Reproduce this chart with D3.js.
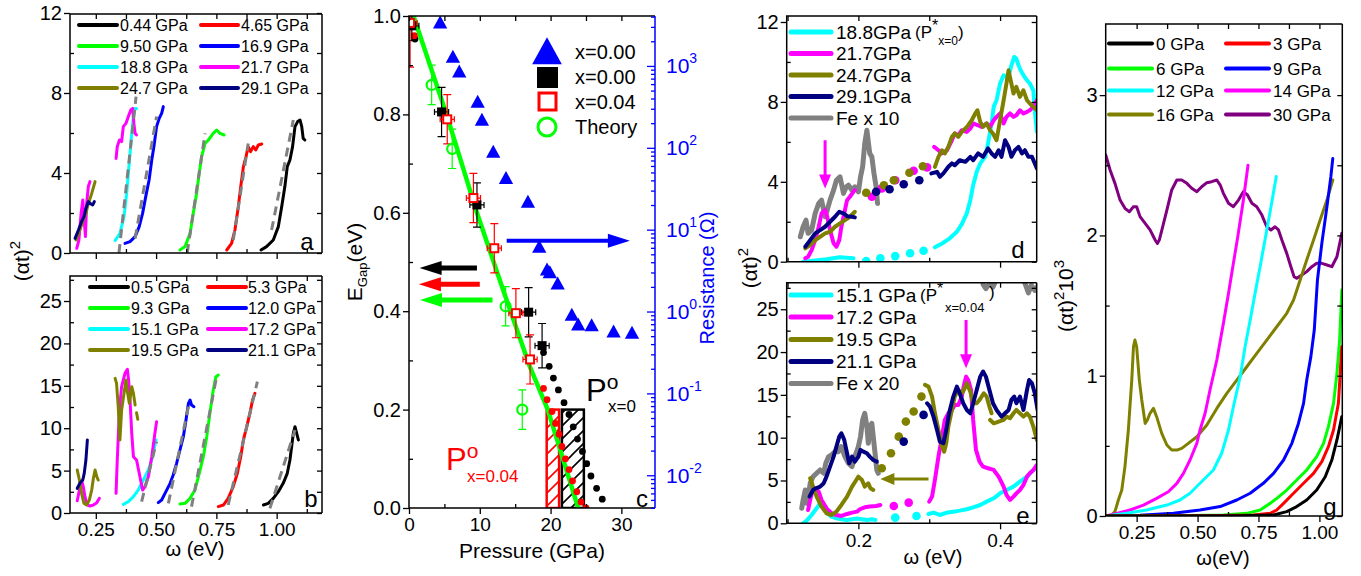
<!DOCTYPE html>
<html>
<head>
<meta charset="utf-8">
<script src="https://cdnjs.cloudflare.com/ajax/libs/d3/7.8.5/d3.min.js"></script>
<style>
body { margin: 0; background: #fff; }
svg { font-family: "Liberation Sans", Arial, sans-serif; }
</style>
</head>
<body>
<svg id="fig" width="1361" height="576"></svg>
<script>
// ---------- panel a : (alpha t)^2 vs omega, loading ----------
var a044 = [[0.935,0.15],[0.958,0.32],[0.986,0.65],[1.007,1.32],[1.021,2.32],[1.034,3.32],[1.044,4.32],[1.055,4.65],[1.066,5.32],[1.076,6.32],[1.087,6.57],[1.097,6.65],[1.104,6.32],[1.110,5.73],[1.117,5.65]];
var a465 = [[0.793,0.15],[0.813,0.48],[0.827,1.15],[0.841,2.32],[0.851,3.32],[0.862,4.32],[0.873,4.82],[0.882,5.32],[0.892,5.07],[0.903,5.32],[0.913,5.15],[0.924,5.4],[0.938,5.45]];
var a950 = [[0.599,0.15],[0.620,0.32],[0.641,0.98],[0.654,1.98],[0.668,2.98],[0.679,3.98],[0.689,4.82],[0.703,5.48],[0.717,5.65],[0.737,5.98],[0.751,6.15],[0.765,5.98],[0.782,5.9]];
var a169 = [[0.371,0.48],[0.392,0.57],[0.413,0.82],[0.430,1.32],[0.444,1.98],[0.457,2.82],[0.471,3.65],[0.482,4.65],[0.491,5.32],[0.502,6.32],[0.513,6.73],[0.523,6.98],[0.530,7.32]];
var a188 = [[0.330,0.62],[0.350,0.98],[0.367,1.82],[0.378,2.98],[0.385,3.98],[0.392,4.98],[0.399,5.98],[0.406,6.82],[0.413,7.23],[0.419,7.23]];
var a217lo = [[0.171,0.23],[0.180,0.65],[0.189,1.98],[0.196,2.65],[0.201,1.82],[0.207,0.82],[0.212,2.48],[0.219,3.32],[0.226,3.57]];
var a217hi = [[0.334,4.73],[0.339,5.32],[0.348,5.65],[0.357,5.57],[0.364,6.32],[0.375,6.48],[0.385,6.82],[0.395,7.15],[0.403,7.23],[0.408,6.48],[0.413,5.98],[0.419,5.9]];
var a247 = [[0.168,0.65],[0.184,1.15],[0.198,1.65],[0.209,1.98],[0.219,2.48],[0.233,2.98],[0.247,3.57]];
var a291 = [[0.164,0.73],[0.178,1.15],[0.191,1.57],[0.201,1.82],[0.209,2.23],[0.219,2.57],[0.226,2.48],[0.237,2.4],[0.244,2.57]];
var aFits = [[0.979,1.15,1.069,6.65],[0.820,0.65,0.882,5.48],[0.629,0,0.703,5.98],[0.413,0.73,0.502,6.82],[0.346,0,0.417,7.82]];
var aLabels = ['0.44 GPa','4.65 GPa','9.50 GPa','16.9 GPa','18.8 GPa','21.7 GPa','24.7 GPa','29.1 GPa'];

// ---------- panel b ----------
var b05 = [[0.945,0.94],[0.965,1.14],[0.986,1.73],[1.007,2.52],[1.027,3.50],[1.044,4.68],[1.055,6.25],[1.062,7.82],[1.069,9.39],[1.076,10.18],[1.083,9.39],[1.090,8.61]];
var b53 = [[0.758,0.75],[0.779,0.94],[0.799,1.73],[0.820,3.11],[0.837,4.68],[0.851,6.64],[0.862,8.61],[0.876,10.18],[0.889,11.75],[0.900,13.33],[0.910,14.11]];
var b93 = [[0.599,1.06],[0.620,1.14],[0.641,1.73],[0.661,2.71],[0.679,4.68],[0.696,6.64],[0.710,9.0],[0.723,11.75],[0.737,14.5],[0.748,16.08],[0.758,16.27]];
var b120 = [[0.509,1.22],[0.523,1.53],[0.537,2.32],[0.558,3.50],[0.571,4.48],[0.585,5.86],[0.599,7.43],[0.613,9.0],[0.624,10.97],[0.634,12.93],[0.641,13.33],[0.647,12.74],[0.657,12.54]];
var b151 = [[0.364,1.02],[0.385,1.34],[0.406,1.93],[0.426,2.71],[0.447,3.89],[0.468,5.07],[0.482,6.25],[0.491,7.43],[0.500,8.61]];
var b172lo = [[0.173,1.45],[0.182,2.71],[0.191,3.81],[0.198,3.11],[0.205,1.93],[0.215,0.94],[0.226,0.83],[0.240,0.94],[0.254,1.22],[0.265,1.73]];
var b172hi = [[0.334,2.32],[0.339,6.25],[0.348,12.15],[0.357,14.9],[0.371,16.47],[0.381,16.94],[0.386,15.68],[0.392,13.33],[0.399,9.39],[0.406,6.64],[0.419,6.25],[0.433,4.28],[0.444,2.71],[0.454,3.11],[0.468,4.28],[0.482,6.64],[0.495,9.39],[0.502,10.77]];
var b195lo = [[0.173,5.07],[0.182,3.89],[0.191,2.32],[0.201,1.14],[0.212,0.94],[0.223,1.53],[0.233,2.71],[0.240,4.09],[0.247,5.07],[0.254,4.28],[0.260,3.89]];
var b195hi = [[0.330,15.88],[0.336,15.29],[0.343,12.54],[0.350,8.61],[0.357,12.15],[0.367,14.11],[0.375,15.68],[0.382,14.11],[0.389,12.93],[0.399,14.9],[0.406,14.11],[0.413,12.74]];
var b195dash = [[0.419,11.83],[0.424,11.05]];
var b211 = [[0.173,2.91],[0.184,3.50],[0.196,3.89],[0.202,4.68],[0.209,6.25],[0.215,8.61]];
var bFits = [[0.972,0.55,1.076,9.79],[0.799,0.94,0.920,15.49],[0.647,0.75,0.751,16.08],[0.551,1.14,0.634,12.54],[0.440,1.34,0.502,8.41]];
var bLabels = ['0.5 GPa','5.3 GPa','9.3 GPa','12.0 GPa','15.1 GPa','17.2 GPa','19.5 GPa','21.1 GPa'];

// ---------- panel c : gap and resistance vs pressure ----------
var resist = [[4.4,3388],[6.2,1288],[7.1,851],[9.7,363],[10.3,219],[11.9,89],[13.7,42.7],[16.8,21.9],[18.4,6.17],[19.5,3.24],[19.9,3.0],[21.0,2.19],[23.0,0.91],[23.9,0.69],[25.8,0.676],[28.9,0.569],[31.5,0.55]];
var gapX0 = [[0.4,0.98,0.03],[4.6,0.805,0.05],[9.6,0.616,0.045],[16.9,0.398,0.05],[18.8,0.33,0.045]];
var gapX04 = [[0.15,0.986,0.09],[5.4,0.79,0.05],[9.1,0.63,0.05],[12.05,0.528,0.05],[15.1,0.396,0.05],[17.1,0.302,0.05]];
var theory = [[3.2,0.86,0.04],[6.1,0.73,0.04],[13.65,0.41,0.04],[16.0,0.20,0.04]];
var theoryLine = [[0.4,1.01],[5.3,0.8],[9.6,0.6],[13.3,0.443],[17,0.29],[19.6,0.2],[23.9,0]];
var dotsX0 = [[0.85,0.953],[19.0,0.316],[19.8,0.288],[20.4,0.264],[21.1,0.240],[21.9,0.214],[22.6,0.19],[23.2,0.165],[23.8,0.14],[24.5,0.115],[25.1,0.09],[25.7,0.065],[26.5,0.04],[27.3,0.018]];
var dotsX04 = [[0.75,0.96],[19.0,0.243],[19.5,0.22],[20.2,0.196],[20.7,0.172],[21.2,0.15],[21.6,0.125],[22.1,0.10],[22.6,0.078],[23.1,0.055],[23.7,0.033],[24.3,0.012],[25.0,0.0]];
var boxX04 = [19.45, 21.2, 0.2];
var boxX0 = [21.6, 24.7, 0.2];
var cArrows = [[9.6,0.488,1.5,0.488],[10.0,0.455,1.4,0.455],[11.8,0.423,1.55,0.423],[13.8,0.543,31.2,0.543]];
var cLabels = ['x=0.00','x=0.00','x=0.04','Theory'];

// ---------- panel d ----------
var d188lo = [[0.122,0],[0.136,0.05],[0.155,0.12],[0.174,0.22],[0.193,0.17]];
var d188dots = [[0.211,0.03],[0.231,0.17],[0.252,0.28],[0.273,0.42],[0.292,0.55]];
var d188hi = [[0.308,0.72],[0.320,0.95],[0.329,1.17],[0.339,1.5],[0.346,1.88],[0.353,2.42],[0.358,3.08],[0.362,3.83],[0.367,4.5],[0.372,4.92],[0.379,5.25],[0.383,5.92],[0.388,6.92],[0.391,7.75],[0.395,8.08],[0.400,8.92],[0.405,9.33],[0.409,9.25],[0.413,9.42],[0.416,9.83],[0.420,10.25],[0.423,10.17],[0.426,9.83],[0.429,9.58],[0.433,9.33],[0.438,9.08],[0.442,8.92],[0.447,8.58],[0.449,7.58],[0.452,6.5]];
var d217lo = [[0.125,0.17],[0.129,0.25],[0.134,0.58],[0.139,1.08],[0.144,1.75],[0.148,2.42],[0.153,2.58],[0.156,2.25],[0.160,1.58],[0.165,0.92],[0.169,0.75],[0.173,1.08],[0.176,1.75],[0.180,2.42],[0.184,3.08],[0.188,3.25],[0.193,3.5],[0.195,3.58]];
var d217dots = [[0.219,3.25],[0.233,3.67],[0.252,4.08],[0.278,4.55],[0.297,4.72]];
var d217hi = [[0.307,5.75],[0.313,5.58],[0.318,5.42],[0.325,5.58],[0.332,6.08],[0.336,6.42],[0.341,6.33],[0.346,6.58],[0.353,6.5],[0.358,6.67],[0.362,6.92],[0.369,6.83],[0.374,6.75],[0.381,6.92],[0.386,6.75],[0.391,7.08],[0.395,7.25],[0.400,7.42],[0.405,6.92],[0.409,7.25],[0.414,7.42],[0.419,7.25],[0.423,7.33],[0.428,7.58],[0.433,7.42],[0.438,7.5],[0.442,7.58],[0.447,7.75],[0.452,8.08]];
var d247lo = [[0.125,0.67],[0.132,0.83],[0.139,1.08],[0.146,1.25],[0.153,1.42],[0.160,1.5],[0.167,1.75],[0.174,1.92],[0.181,2.08],[0.188,2.25],[0.195,2.5]];
var d247dots = [[0.211,3.45],[0.236,3.83],[0.250,4.08],[0.272,4.45],[0.291,4.78]];
var d247hi = [[0.308,4.75],[0.313,5.25],[0.318,5.58],[0.322,5.42],[0.327,5.75],[0.332,6.25],[0.336,6.42],[0.341,6.25],[0.346,6.5],[0.351,6.67],[0.355,6.83],[0.360,7.08],[0.365,7.42],[0.368,7.58],[0.372,7.0],[0.376,6.75],[0.381,6.92],[0.386,6.58],[0.390,6.42],[0.395,6.08],[0.400,7.08],[0.405,8.08],[0.409,8.92],[0.412,9.58],[0.415,9.08],[0.419,8.42],[0.423,8.75],[0.428,8.25],[0.433,8.58],[0.438,8.08],[0.442,7.92],[0.447,7.75],[0.452,7.58]];
var d291lo = [[0.125,0.75],[0.132,1.08],[0.139,1.42],[0.146,1.58],[0.153,1.75],[0.160,2.0],[0.167,2.25],[0.173,2.5],[0.179,2.42],[0.184,2.28],[0.191,2.25],[0.195,2.22]];
var d291dots = [[0.225,3.5],[0.244,3.63],[0.264,3.88],[0.286,4.08]];
var d291hi = [[0.303,4.42],[0.311,4.5],[0.315,4.25],[0.320,4.42],[0.327,4.75],[0.332,4.92],[0.336,4.83],[0.343,5.08],[0.351,5.0],[0.358,5.25],[0.362,5.08],[0.369,5.42],[0.376,5.25],[0.383,5.67],[0.388,5.42],[0.393,5.25],[0.398,5.58],[0.402,5.25],[0.407,6.08],[0.412,5.75],[0.416,5.25],[0.421,5.58],[0.426,5.75],[0.431,5.42],[0.435,5.58],[0.440,5.25],[0.445,5.25],[0.449,4.92],[0.452,4.67]];
var dFe = [[0.118,1.25],[0.122,1.75],[0.126,2.08],[0.129,1.42],[0.134,1.58],[0.139,2.42],[0.144,2.92],[0.148,3.08],[0.153,2.25],[0.156,2.58],[0.160,3.08],[0.165,3.58],[0.169,4.08],[0.174,4.25],[0.179,3.42],[0.183,3.75],[0.186,3.83],[0.191,3.58],[0.195,3.75],[0.200,3.5],[0.203,4.25],[0.206,4.75],[0.209,5.92],[0.212,6.58],[0.216,5.42],[0.219,5.25],[0.222,4.42],[0.225,3.75],[0.227,2.92]];
var dArrow = [0.153,6.08,0.153,3.67];

// ---------- panel e ----------
var e151lo = [[0.122,0],[0.127,0.31],[0.134,0.97],[0.141,1.75],[0.146,2.34],[0.151,1.95],[0.156,1.17],[0.162,0.78],[0.169,0.58],[0.176,0.47],[0.184,0.39],[0.191,0.47],[0.198,0.55],[0.205,0.47],[0.212,0.39],[0.219,0.47],[0.224,0.39]];
var e151dots = [[0.252,0.66],[0.282,0.86]];
var e151hi = [[0.299,1.09],[0.306,1.25],[0.315,0.97],[0.325,1.25],[0.334,1.36],[0.343,1.48],[0.353,1.64],[0.362,1.87],[0.372,2.14],[0.381,2.53],[0.391,2.92],[0.400,3.5],[0.409,3.89],[0.419,4.28],[0.428,4.87],[0.438,5.45],[0.447,6.23],[0.453,6.62]];
var e172lo = [[0.129,1.56],[0.133,3.12],[0.136,3.89],[0.139,4.09],[0.144,3.7],[0.148,2.73],[0.155,1.75],[0.162,1.17],[0.169,0.97],[0.176,0.86],[0.184,1.09],[0.191,1.25],[0.198,1.36],[0.202,1.64],[0.209,1.87],[0.216,1.95],[0.225,2.02],[0.231,2.14]];
var e172dots = [[0.250,2.02],[0.271,2.41]];
var e172hi = [[0.300,2.53],[0.304,3.12],[0.308,5.06],[0.313,7.79],[0.318,10.12],[0.322,12.07],[0.327,12.85],[0.332,13.24],[0.336,13.82],[0.341,13.82],[0.346,14.8],[0.349,16.16],[0.352,17.13],[0.355,16.74],[0.359,15.58],[0.362,12.07],[0.366,8.57],[0.371,7.2],[0.376,6.62],[0.383,6.43],[0.391,6.23],[0.398,5.45],[0.405,4.28],[0.409,3.31],[0.414,2.73],[0.419,3.12],[0.423,3.5],[0.428,3.89],[0.433,4.48],[0.438,5.45],[0.442,5.84],[0.447,6.23],[0.452,6.81]];
var e195lo = [[0.132,5.26],[0.136,4.28],[0.141,3.12],[0.148,1.95],[0.155,1.17],[0.162,0.97],[0.169,1.36],[0.176,2.14],[0.184,3.12],[0.191,4.28],[0.197,5.06],[0.200,5.45],[0.205,5.06],[0.209,4.28],[0.214,4.67],[0.217,4.09],[0.221,3.89]];
var e195dots = [[0.233,6.43],[0.246,8.18],[0.257,10.12],[0.267,11.88],[0.278,13.05],[0.289,14.8]];
var e195hi = [[0.294,16.16],[0.299,15.97],[0.304,14.8],[0.308,12.85],[0.313,10.9],[0.318,8.96],[0.321,8.37],[0.324,9.35],[0.327,11.29],[0.332,13.24],[0.336,14.8],[0.341,15.58],[0.346,15.19],[0.349,15.58],[0.353,16.36],[0.358,15.38],[0.362,14.02],[0.367,14.02],[0.371,14.41],[0.374,14.8],[0.377,15.19],[0.381,14.8],[0.385,13.63],[0.388,12.85]];
var e195hi2 = [[0.386,12.07],[0.391,11.68],[0.398,11.88],[0.405,12.07],[0.409,12.46],[0.414,12.27],[0.419,12.85],[0.423,13.24],[0.428,12.85],[0.433,12.46],[0.438,12.85],[0.442,12.46],[0.447,11.29],[0.452,9.74]];
var e211lo = [[0.131,3.12],[0.136,3.89],[0.140,4.09],[0.146,4.28],[0.151,4.67],[0.155,5.45],[0.160,6.62],[0.165,7.79],[0.169,8.96],[0.173,10.12],[0.176,10.51],[0.180,9.74],[0.184,8.18],[0.187,7.01],[0.191,7.79],[0.195,7.2],[0.200,7.79],[0.203,8.57],[0.207,8.37],[0.212,8.18],[0.216,7.79],[0.221,7.4],[0.226,7.2]];
var e211dots = [[0.264,9.54],[0.292,12.66]];
var e211hi = [[0.297,14.02],[0.301,13.63],[0.306,12.46],[0.311,10.9],[0.315,9.54],[0.320,9.35],[0.324,10.9],[0.328,12.85],[0.334,14.8],[0.339,15.97],[0.343,15.19],[0.348,14.02],[0.353,13.24],[0.358,12.85],[0.362,14.02],[0.367,15.58],[0.372,17.13],[0.376,17.72],[0.380,17.13],[0.385,15.58],[0.390,14.02],[0.395,13.24],[0.402,12.46],[0.407,12.85],[0.412,13.24],[0.416,14.41],[0.420,14.8],[0.423,14.02],[0.428,14.8],[0.433,13.24],[0.438,15.58],[0.441,16.74],[0.445,16.36],[0.449,15.19],[0.453,13.24]];
var eFe = [[0.120,1.75],[0.122,2.73],[0.125,3.89],[0.127,2.34],[0.129,3.12],[0.132,4.67],[0.136,5.45],[0.141,5.84],[0.146,6.23],[0.151,5.84],[0.154,7.01],[0.158,7.79],[0.162,7.98],[0.167,8.37],[0.172,8.37],[0.176,8.96],[0.181,7.79],[0.186,7.01],[0.191,6.62],[0.195,7.79],[0.200,8.96],[0.203,10.12],[0.206,12.07],[0.209,12.85],[0.212,11.29],[0.214,9.35],[0.216,11.29],[0.219,11.68],[0.221,10.12],[0.224,7.79],[0.226,6.23],[0.228,5.84]];
var eFeHi = [[0.376,27.9],[0.380,27.4],[0.385,28.0],[0.390,27.6],[0.395,28.5],[0.405,28.8],[0.415,28.9],[0.425,28.8],[0.433,28.5],[0.437,27.6],[0.440,26.9],[0.444,27.8],[0.449,27.2],[0.453,27.7]];
var eArrows = [[0.352,23.75,0.352,18.1],[0.299,5.18,0.231,5.18]];

// ---------- panel g ----------
var g0 = [[0.123,0],[0.675,0.002],[0.812,0.007],[0.866,0.031],[0.907,0.067],[0.948,0.114],[0.989,0.185],[1.024,0.280],[1.051,0.399],[1.072,0.542],[1.092,0.708]];
var g3 = [[0.123,0],[0.538,0.002],[0.729,0.007],[0.798,0.019],[0.825,0.043],[0.853,0.090],[0.894,0.162],[0.935,0.233],[0.976,0.304],[1.010,0.387],[1.037,0.494],[1.058,0.613],[1.078,0.803],[1.092,1.207]];
var g6 = [[0.123,0],[0.401,0.002],[0.606,0.007],[0.702,0.019],[0.757,0.043],[0.798,0.090],[0.825,0.126],[0.866,0.185],[0.907,0.257],[0.948,0.328],[0.989,0.423],[1.017,0.518],[1.037,0.637],[1.058,0.803],[1.072,1.017],[1.083,1.254],[1.092,1.611]];
var g9 = [[0.123,0],[0.264,0.005],[0.401,0.019],[0.510,0.043],[0.593,0.067],[0.661,0.114],[0.716,0.162],[0.770,0.233],[0.812,0.304],[0.853,0.399],[0.887,0.518],[0.914,0.660],[0.935,0.803],[0.948,0.969],[0.965,1.136],[0.979,1.326],[0.992,1.682],[1.010,1.943],[1.031,2.205],[1.047,2.419],[1.055,2.549]];
var g12 = [[0.123,0],[0.209,0.019],[0.291,0.043],[0.374,0.078],[0.428,0.114],[0.469,0.162],[0.510,0.233],[0.565,0.328],[0.599,0.447],[0.627,0.613],[0.647,0.779],[0.675,0.993],[0.695,1.207],[0.716,1.397],[0.736,1.587],[0.757,1.78],[0.780,2.0],[0.802,2.21],[0.823,2.42]];
var g14 = [[0.123,0],[0.168,0.019],[0.223,0.043],[0.278,0.078],[0.332,0.126],[0.380,0.173],[0.415,0.233],[0.442,0.304],[0.469,0.399],[0.497,0.518],[0.510,0.613],[0.531,0.732],[0.551,0.898],[0.579,1.112],[0.606,1.373],[0.627,1.587],[0.645,1.78],[0.665,1.99],[0.687,2.24],[0.707,2.50]];
var g16 = [[0.123,0],[0.148,0.007],[0.161,0.031],[0.175,0.114],[0.189,0.185],[0.202,0.352],[0.216,0.613],[0.230,0.969],[0.237,1.207],[0.243,1.254],[0.250,1.207],[0.261,0.969],[0.271,0.827],[0.285,0.660],[0.294,0.684],[0.305,0.732],[0.319,0.767],[0.332,0.708],[0.353,0.589],[0.374,0.506],[0.394,0.470],[0.415,0.470],[0.435,0.482],[0.462,0.518],[0.497,0.565],[0.538,0.648],[0.579,0.767],[0.620,0.874],[0.661,0.969],[0.702,1.064],[0.743,1.159],[0.784,1.254],[0.825,1.349],[0.866,1.445],[0.894,1.540],[0.921,1.682],[0.948,1.825],[0.976,1.967],[1.003,2.110],[1.031,2.252],[1.055,2.395]];
var g30 = [[0.123,2.573],[0.141,2.466],[0.161,2.371],[0.182,2.252],[0.202,2.193],[0.220,2.169],[0.237,2.205],[0.250,2.205],[0.264,2.134],[0.285,2.086],[0.305,2.039],[0.326,1.967],[0.335,1.943],[0.343,1.967],[0.357,2.062],[0.374,2.181],[0.394,2.324],[0.415,2.395],[0.435,2.395],[0.456,2.371],[0.476,2.336],[0.497,2.312],[0.517,2.347],[0.538,2.376],[0.558,2.383],[0.579,2.395],[0.593,2.359],[0.606,2.300],[0.627,2.229],[0.647,2.205],[0.668,2.252],[0.688,2.312],[0.705,2.288],[0.723,2.229],[0.743,2.205],[0.764,2.145],[0.784,2.062],[0.801,2.039],[0.818,2.062],[0.832,2.039],[0.846,1.967],[0.866,1.872],[0.883,1.777],[0.896,1.706],[0.907,1.694],[0.928,1.718],[0.948,1.742],[0.969,1.777],[0.989,1.801],[1.010,1.801],[1.031,1.789],[1.051,1.777],[1.072,1.848],[1.092,2.015]];
var gLabels = ['0 GPa','3 GPa','6 GPa','9 GPa','12 GPa','14 GPa','16 GPa','30 GPa'];

// ticks
var abXMaj = [0.25,0.5,0.75,1.0], abXMin = [0.375,0.625,0.875,1.125];
var aYMaj = [0,4,8,12], aYMin = [2,6,10];
var bYMaj = [0,5,10,15,20,25], bYMin = [2.5,7.5,12.5,17.5,22.5,27.5];
var cXMaj = [0,10,20,30], cXMin = [5,15,25];
var cYMaj = [0,0.2,0.4,0.6,0.8,1.0], cYMin = [0.1,0.3,0.5,0.7,0.9];
var cRMaj = [0.01,0.1,1,10,100,1000];
var deXMaj = [0.2,0.4], deXMin = [0.1,0.3];
var dYMaj = [0,4,8,12], dYMin = [2,6,10];
var eYMaj = [0,5,10,15,20,25], eYMin = [2.5,7.5,12.5,17.5,22.5,27.5];
var gXMaj = [0.25,0.5,0.75,1.0], gXMin = [0.375,0.625,0.875];
var gYMaj = [0,1,2,3], gYMin = [0.5,1.5,2.5];

var C = {black:'#000000', red:'#ff0000', green:'#00ff00', blue:'#0000ff', cyan:'#00ffff', magenta:'#ff00ff', olive:'#808000', navy:'#000080', gray:'#808080', purple:'#800080'};
var svg = d3.select('#fig');
var clipN = 0;

function panel(box, xd, yd) {
  var p = {box: box};
  p.x = d3.scaleLinear().domain(xd).range([box[0], box[2]]);
  p.y = d3.scaleLinear().domain(yd).range([box[3], box[1]]);
  var id = 'clip' + (clipN++);
  svg.append('clipPath').attr('id', id).append('rect')
    .attr('x', box[0]).attr('y', box[1]).attr('width', box[2] - box[0]).attr('height', box[3] - box[1]);
  p.g = svg.append('g').attr('clip-path', 'url(#' + id + ')');
  return p;
}

function put(axis, tx, ty, fs, color) {
  var g = svg.append('g').attr('transform', 'translate(' + tx + ',' + ty + ')').call(axis);
  g.select('.domain').remove();
  g.selectAll('line').attr('stroke', color || '#000').attr('stroke-width', 1.3);
  g.selectAll('text').attr('fill', color || '#000').style('font-size', (fs || 20) + 'px').style('font-family', 'Liberation Sans, Arial, sans-serif');
  return g;
}
var none = function() { return ''; };

function axes(p, o) {
  var b = p.box;
  put(d3.axisBottom(p.x).tickValues(o.xMaj).tickSize(6).tickPadding(4).tickFormat(o.xFmt || none), 0, b[3], 19);
  put(d3.axisBottom(p.x).tickValues(o.xMin).tickSize(-4).tickFormat(none), 0, b[3]);
  put(d3.axisTop(p.x).tickValues(o.xMaj.concat(o.xMin)).tickSize(-5).tickFormat(none), 0, b[1]);
  put(d3.axisLeft(p.y).tickValues(o.yMaj).tickSize(6).tickPadding(2).tickFormat(o.yFmt || none), b[0], 0, 20);
  put(d3.axisLeft(p.y).tickValues(o.yMin).tickSize(-4).tickFormat(none), b[0], 0);
  if (!o.noRight) put(d3.axisRight(p.y).tickValues(o.yMaj.concat(o.yMin)).tickSize(-5).tickFormat(none), b[2], 0);
  var fr = svg.append('g').attr('fill', 'none').attr('stroke-width', 1.5);
  fr.append('path').attr('d', 'M' + b[2] + ',' + b[1] + 'H' + b[0] + 'V' + b[3] + 'H' + b[2]).attr('stroke', '#000');
  fr.append('path').attr('d', 'M' + b[2] + ',' + b[1] + 'V' + b[3]).attr('stroke', o.rightColor || '#000');
}

function curve(p, data, color, w, dash) {
  p.g.append('path').datum(data)
    .attr('d', d3.line().x(function(d) { return p.x(d[0]); }).y(function(d) { return p.y(d[1]); }))
    .attr('fill', 'none').attr('stroke', color).attr('stroke-width', w || 3)
    .attr('stroke-linejoin', 'round').attr('stroke-linecap', 'round')
    .attr('stroke-dasharray', dash || null);
}
function dots(p, data, color, r) {
  p.g.selectAll(null).data(data).enter().append('circle')
    .attr('cx', function(d) { return p.x(d[0]); }).attr('cy', function(d) { return p.y(d[1]); })
    .attr('r', r).attr('fill', color);
}
function fits(p, data) {
  p.g.selectAll(null).data(data).enter().append('line')
    .attr('x1', function(d) { return p.x(d[0]); }).attr('y1', function(d) { return p.y(d[1]); })
    .attr('x2', function(d) { return p.x(d[2]); }).attr('y2', function(d) { return p.y(d[3]); })
    .attr('stroke', C.gray).attr('stroke-width', 3).attr('stroke-dasharray', '9,6');
}
function arrow(p, a, color, w, hl, hw) {
  var x1 = p.x(a[0]), y1 = p.y(a[1]), x2 = p.x(a[2]), y2 = p.y(a[3]);
  var dx = x2 - x1, dy = y2 - y1, L = Math.sqrt(dx * dx + dy * dy), ux = dx / L, uy = dy / L;
  var bx = x2 - ux * hl, by = y2 - uy * hl;
  svg.append('line').attr('x1', x1).attr('y1', y1).attr('x2', bx + ux * 2).attr('y2', by + uy * 2)
    .attr('stroke', color).attr('stroke-width', w);
  svg.append('path').attr('fill', color)
    .attr('d', 'M' + x2 + ',' + y2 + 'L' + (bx - uy * hw) + ',' + (by + ux * hw) + 'L' + (bx + uy * hw) + ',' + (by - ux * hw) + 'Z');
}
function legendLines(entries, colors, x0, x1, tx, ys, fs, w) {
  entries.forEach(function(t, i) {
    svg.append('line').attr('x1', x0).attr('x2', x1).attr('y1', ys[i]).attr('y2', ys[i])
      .attr('stroke', colors[i]).attr('stroke-width', w || 4).attr('stroke-linecap', 'round');
    svg.append('text').attr('x', tx).attr('y', ys[i]).attr('dy', '0.36em').style('font-size', fs + 'px').text(t);
  });
}
function letter(x, y, t) {
  svg.append('text').attr('x', x).attr('y', y).attr('text-anchor', 'middle').attr('dy', '0.36em').style('font-size', '24px').text(t);
}
function vtitle(x, y, size) {
  return svg.append('text').attr('transform', 'translate(' + x + ',' + y + ') rotate(-90)')
    .attr('text-anchor', 'middle').style('font-size', size + 'px');
}

// ================= panel a =================
var pa = panel([70, 14, 322, 253], [0.143, 1.188], [0, 11.95]);
axes(pa, {xMaj: abXMaj, xMin: abXMin, yMaj: aYMaj, yMin: aYMin, yFmt: d3.format('d')});
curve(pa, a044, C.black); curve(pa, a465, C.red); curve(pa, a950, C.green); curve(pa, a169, C.blue);
curve(pa, a188, C.cyan); curve(pa, a217hi, C.magenta); curve(pa, a217lo, C.magenta);
curve(pa, a247, C.olive); curve(pa, a291, C.navy);
fits(pa, aFits);
var colCols = [C.black, C.red, C.green, C.blue, C.cyan, C.magenta, C.olive, C.navy];
legendLines([aLabels[0], aLabels[2], aLabels[4], aLabels[6]], [colCols[0], colCols[2], colCols[4], colCols[6]], 79, 117, 120, [25, 46, 67, 88], 16);
legendLines([aLabels[1], aLabels[3], aLabels[5], aLabels[7]], [colCols[1], colCols[3], colCols[5], colCols[7]], 201, 238, 241, [25, 46, 67, 88], 16);
letter(307, 241, 'a');

// ================= panel b =================
var pb = panel([70, 276, 322, 513], [0.143, 1.188], [0, 27.95]);
axes(pb, {xMaj: abXMaj, xMin: abXMin, yMaj: bYMaj, yMin: bYMin, yFmt: d3.format('d'), xFmt: d3.format('.2f')});
curve(pb, b05, C.black); curve(pb, b53, C.red); curve(pb, b93, C.green); curve(pb, b120, C.blue);
curve(pb, b151, C.cyan); curve(pb, b172lo, C.magenta); curve(pb, b172hi, C.magenta);
curve(pb, b195lo, C.olive); curve(pb, b195hi, C.olive); curve(pb, b195dash, C.olive); curve(pb, b211, C.navy);
fits(pb, bFits);
legendLines([bLabels[0], bLabels[2], bLabels[4], bLabels[6]], [colCols[0], colCols[2], colCols[4], colCols[6]], 90, 128, 131, [287, 308, 329, 350], 16);
legendLines([bLabels[1], bLabels[3], bLabels[5], bLabels[7]], [colCols[1], colCols[3], colCols[5], colCols[7]], 208, 246, 248, [287, 308, 329, 350], 16);
letter(311, 498, 'b');
svg.append('text').attr('x', 195).attr('y', 556).attr('text-anchor', 'middle').style('font-size', '20px').text('\u03c9 (eV)');
var t1 = vtitle(29, 261, 21); t1.append('tspan').text('(\u03b1t)'); t1.append('tspan').attr('dy', -9).style('font-size', '15px').text('2');

// ================= panel c =================
var pc = panel([409, 16, 655, 508], [0, 34.75], [0, 1]);
var yR = d3.scaleLog().domain([Math.pow(10, -2.4), Math.pow(10, 3.61)]).range([508, 16]);
var defs = svg.append('defs');
[['hatchR', C.red], ['hatchK', C.black]].forEach(function(h) {
  defs.append('pattern').attr('id', h[0]).attr('patternUnits', 'userSpaceOnUse').attr('width', 13).attr('height', 13)
    .append('path').attr('d', 'M-2,15L15,-2M-2,2L2,-2M11,15L15,11').attr('stroke', h[1]).attr('stroke-width', 1.6);
});
[[boxX04, 'hatchR', C.red], [boxX0, 'hatchK', C.black]].forEach(function(b) {
  pc.g.append('rect').attr('x', pc.x(b[0][0])).attr('width', pc.x(b[0][1]) - pc.x(b[0][0]))
    .attr('y', pc.y(b[0][2])).attr('height', pc.y(0) - pc.y(b[0][2]))
    .attr('fill', 'url(#' + b[1] + ')').attr('stroke', b[2]).attr('stroke-width', 2.5);
});
curve(pc, theoryLine, C.green, 4.5);
dots(pc, dotsX0, C.black, 3.4);
dots(pc, dotsX04, C.red, 3.4);
function errbars(p, data, color, hw) {
  var g = p.g.append('g').attr('stroke', color).attr('stroke-width', 1.2).attr('fill', 'none');
  data.forEach(function(d) {
    var cx = p.x(d[0]), y1 = p.y(d[1] - d[2]), y2 = p.y(d[1] + d[2]), cy = p.y(d[1]);
    g.append('path').attr('d', 'M' + cx + ',' + y1 + 'V' + y2 + 'M' + (cx - 4) + ',' + y1 + 'h8M' + (cx - 4) + ',' + y2 + 'h8');
    if (hw) {
      var x1 = p.x(d[0] - hw), x2 = p.x(d[0] + hw);
      g.append('path').attr('d', 'M' + x1 + ',' + cy + 'H' + x2 + 'M' + x1 + ',' + (cy - 3) + 'v6M' + x2 + ',' + (cy - 3) + 'v6');
    }
  });
}
errbars(pc, gapX0, C.black, 1);
errbars(pc, gapX04, C.red, 1);
errbars(pc, theory, C.green, 0);
pc.g.selectAll(null).data(gapX0).enter().append('rect')
  .attr('x', function(d) { return pc.x(d[0]) - 4.5; }).attr('y', function(d) { return pc.y(d[1]) - 4.5; })
  .attr('width', 9).attr('height', 9).attr('fill', C.black);
pc.g.selectAll(null).data(gapX04).enter().append('rect')
  .attr('x', function(d) { return pc.x(d[0]) - 4; }).attr('y', function(d) { return pc.y(d[1]) - 4; })
  .attr('width', 8).attr('height', 8).attr('fill', '#fff').attr('stroke', C.red).attr('stroke-width', 2);
pc.g.selectAll(null).data(theory).enter().append('circle')
  .attr('cx', function(d) { return pc.x(d[0]); }).attr('cy', function(d) { return pc.y(d[1]); })
  .attr('r', 5).attr('fill', 'none').attr('stroke', C.green).attr('stroke-width', 2.2);
function tri(cx, cy, s) { return 'M' + cx + ',' + (cy - s * 0.55) + 'L' + (cx + s * 0.55) + ',' + (cy + s * 0.45) + 'L' + (cx - s * 0.55) + ',' + (cy + s * 0.45) + 'Z'; }
pc.g.selectAll(null).data(resist).enter().append('path')
  .attr('d', function(d) { return tri(pc.x(d[0]), yR(d[1]), 13); }).attr('fill', C.blue);
// axes of panel c
axes(pc, {xMaj: cXMaj, xMin: cXMin, yMaj: cYMaj, yMin: cYMin, yFmt: d3.format('.1f'), xFmt: d3.format('d'), noRight: true, rightColor: C.blue});
put(d3.axisRight(yR).tickValues(yR.ticks().filter(function(v) { return cRMaj.indexOf(v) < 0; })).tickSize(-4).tickFormat(none), 655, 0, 18, C.blue);
put(d3.axisRight(yR).tickValues(cRMaj).tickSize(-8).tickFormat(none), 655, 0, 18, C.blue);
cRMaj.forEach(function(v) {
  var t = svg.append('text').attr('x', 666).attr('y', yR(v)).attr('dy', '0.36em').attr('fill', C.blue).style('font-size', '21px');
  t.append('tspan').text('10');
  t.append('tspan').attr('dy', -10).style('font-size', '14px').text(String(Math.round(Math.log10(v))));
});
arrow(pc, cArrows[0], C.black, 5, 22, 7);
arrow(pc, cArrows[1], C.red, 5, 22, 7);
arrow(pc, cArrows[2], C.green, 5, 22, 7);
arrow(pc, cArrows[3], C.blue, 4, 22, 7);
// legend c
svg.append('path').attr('d', tri(547, 52, 27)).attr('fill', C.blue);
svg.append('rect').attr('x', 537).attr('y', 67).attr('width', 21).attr('height', 21).attr('fill', C.black);
svg.append('rect').attr('x', 539).attr('y', 93).attr('width', 17).attr('height', 17).attr('fill', 'none').attr('stroke', C.red).attr('stroke-width', 3);
svg.append('circle').attr('cx', 547).attr('cy', 127).attr('r', 9).attr('fill', 'none').attr('stroke', C.green).attr('stroke-width', 3);
cLabels.forEach(function(t, i) {
  svg.append('text').attr('x', 575).attr('y', 52 + 25 * i).attr('dy', '0.36em').style('font-size', '20px').text(t);
});
var po = svg.append('text').attr('x', 586).attr('y', 401).style('font-size', '31px');
po.append('tspan').text('P'); po.append('tspan').attr('dy', -12).style('font-size', '21px').text('o');
po.append('tspan').attr('x', 608).attr('y', 412).style('font-size', '17px').text('x=0');
var pr = svg.append('text').attr('x', 446).attr('y', 470).attr('fill', C.red).style('font-size', '31px');
pr.append('tspan').text('P'); pr.append('tspan').attr('dy', -12).style('font-size', '21px').text('o');
pr.append('tspan').attr('x', 467).attr('y', 482).style('font-size', '17px').text('x=0.04');
letter(642, 498, 'c');
svg.append('text').attr('x', 532).attr('y', 558).attr('text-anchor', 'middle').style('font-size', '21px').text('Pressure (GPa)');
var t2 = vtitle(362, 262, 21);
t2.append('tspan').text('E'); t2.append('tspan').attr('dy', 5).style('font-size', '13px').text('Gap');
t2.append('tspan').attr('dy', -5).text('(eV)');
vtitle(714, 278, 20).attr('fill', C.blue).text('Resistance (\u03a9)');

// ================= panel d =================
var pd = panel([786.7, 16, 1036.7, 261.7], [0.0988, 0.4517], [0, 12.3]);
axes(pd, {xMaj: deXMaj, xMin: deXMin, yMaj: dYMaj, yMin: dYMin, yFmt: d3.format('d')});
curve(pd, dFe, C.gray, 5);
curve(pd, d188lo, C.cyan, 4); curve(pd, d188hi, C.cyan, 4); dots(pd, d188dots, C.cyan, 4.3);
curve(pd, d217lo, C.magenta, 4); curve(pd, d217hi, C.magenta, 4); dots(pd, d217dots, C.magenta, 4.3);
curve(pd, d247lo, C.olive, 4); curve(pd, d247hi, C.olive, 4); dots(pd, d247dots, C.olive, 4.3);
curve(pd, d291lo, C.navy, 4); curve(pd, d291hi, C.navy, 4); dots(pd, d291dots, C.navy, 4.3);
arrow(pd, dArrow, C.magenta, 3, 14, 6);
var dCols = [C.cyan, C.magenta, C.olive, C.navy, C.gray];
legendLines(['18.8GPa', '21.7GPa', '24.7GPa', '29.1GPa', 'Fe x 10'], dCols, 791, 831, 836, [32, 53.5, 75, 96.5, 118], 19, 5);
var dl = svg.append('text').attr('x', 915).attr('y', 32).attr('dy', '0.36em').style('font-size', '17px');
dl.append('tspan').text('(P'); dl.append('tspan').attr('dy', -7).style('font-size', '16px').text('*');
dl.append('tspan').attr('dy', 14).style('font-size', '12px').text('x=0');
dl.append('tspan').attr('dy', -7).text(')');
letter(1018, 249, 'd');

// ================= panel e =================
var pe = panel([786.7, 282.7, 1036.7, 523.3], [0.0988, 0.4517], [0, 28.1]);
axes(pe, {xMaj: deXMaj, xMin: deXMin, yMaj: eYMaj, yMin: eYMin, yFmt: d3.format('d'), xFmt: d3.format('.1f')});
curve(pe, eFe, C.gray, 5); curve(pe, eFeHi, C.gray, 5);
curve(pe, e151lo, C.cyan, 4); curve(pe, e151hi, C.cyan, 4); dots(pe, e151dots, C.cyan, 4.3);
curve(pe, e172lo, C.magenta, 4); curve(pe, e172hi, C.magenta, 4); dots(pe, e172dots, C.magenta, 4.3);
curve(pe, e195lo, C.olive, 4); curve(pe, e195hi, C.olive, 4); curve(pe, e195hi2, C.olive, 4); dots(pe, e195dots, C.olive, 4.3);
curve(pe, e211lo, C.navy, 4); curve(pe, e211hi, C.navy, 4); dots(pe, e211dots, C.navy, 4.3);
arrow(pe, eArrows[0], C.magenta, 3, 14, 6);
arrow(pe, eArrows[1], C.olive, 3, 14, 6);
legendLines(['15.1 GPa', '17.2 GPa', '19.5 GPa', '21.1 GPa', 'Fe x 20'], dCols, 791, 831, 836, [295, 317, 339.5, 361.5, 383.5], 19, 5);
var el = svg.append('text').attr('x', 920).attr('y', 295).attr('dy', '0.36em').style('font-size', '17px');
el.append('tspan').text('(P'); el.append('tspan').attr('dy', -7).style('font-size', '16px').text('*');
el.append('tspan').attr('x', 945).attr('y', 312).style('font-size', '13px').text('x=0.04');
el.append('tspan').attr('x', 989).attr('y', 298).text(')');
letter(1023, 515, 'e');
svg.append('text').attr('x', 933).attr('y', 564).attr('text-anchor', 'middle').style('font-size', '20px').text('\u03c9 (eV)');
var t3 = vtitle(757, 268, 21); t3.append('tspan').text('(\u03b1t)'); t3.append('tspan').attr('dy', -9).style('font-size', '15px').text('2');

// ================= panel g =================
var pg = panel([1105.7, 24, 1342.3, 516], [0.123, 1.094], [0, 3.507]);
axes(pg, {xMaj: gXMaj, xMin: gXMin, yMaj: gYMaj, yMin: gYMin, yFmt: d3.format('d'), xFmt: d3.format('.2f')});
curve(pg, g30, C.purple); curve(pg, g16, C.olive); curve(pg, g14, C.magenta); curve(pg, g12, C.cyan);
curve(pg, g9, C.blue); curve(pg, g6, C.green); curve(pg, g3, C.red); curve(pg, g0, C.black);
var gCols = [C.black, C.red, C.green, C.blue, C.cyan, C.magenta, C.olive, C.purple];
legendLines([gLabels[0], gLabels[2], gLabels[4], gLabels[6]], [gCols[0], gCols[2], gCols[4], gCols[6]], 1109, 1152, 1156, [43.5, 68.5, 90.5, 114.5], 17);
legendLines([gLabels[1], gLabels[3], gLabels[5], gLabels[7]], [gCols[1], gCols[3], gCols[5], gCols[7]], 1226, 1269, 1273, [43.5, 68.5, 90.5, 114.5], 17);
letter(1330, 506, 'g');
svg.append('text').attr('x', 1223).attr('y', 565).attr('text-anchor', 'middle').style('font-size', '20px').text('\u03c9(eV)');
var t4 = vtitle(1073, 296, 21); t4.append('tspan').text('(\u03b1t)'); t4.append('tspan').attr('dy', -9).style('font-size', '15px').text('2');
t4.append('tspan').attr('dy', 9).text('10'); t4.append('tspan').attr('dy', -9).style('font-size', '15px').text('3');
</script>
</body>
</html>
